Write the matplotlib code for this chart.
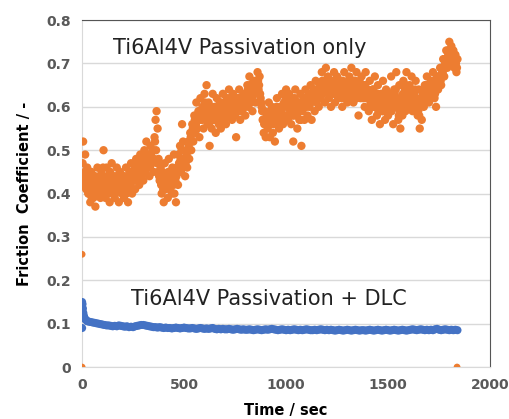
import numpy as np
import matplotlib.pyplot as plt

# orange: Ti6Al4V passivation only, sampled every 5 s from 5 s to 1840 s
orange_v = [
    0.52, 0.44, 0.49, 0.41, 0.46, 0.40, 0.43, 0.38, 0.45, 0.41, 0.39, 0.44, 0.37, 0.42, 0.46, 0.40, 0.43, 0.39, 0.45, 0.41,
    0.50, 0.43, 0.39, 0.46, 0.41, 0.44, 0.38, 0.42, 0.47, 0.40, 0.44, 0.39, 0.43, 0.46, 0.41, 0.38, 0.45, 0.42, 0.40, 0.44,
    0.39, 0.43, 0.46, 0.41, 0.38, 0.44, 0.42, 0.47, 0.40, 0.43, 0.45, 0.41, 0.48, 0.43, 0.46, 0.42, 0.49, 0.44, 0.47, 0.43,
    0.50, 0.45, 0.52, 0.46, 0.49, 0.44, 0.51, 0.47, 0.50, 0.45, 0.53, 0.57, 0.59, 0.55, 0.48, 0.43, 0.46, 0.40, 0.44, 0.38,
    0.47, 0.41, 0.44, 0.39, 0.48, 0.42, 0.45, 0.40, 0.43, 0.49, 0.44, 0.38, 0.46, 0.42, 0.47, 0.51, 0.45, 0.56, 0.52, 0.48,
    0.44, 0.50, 0.46, 0.52, 0.48, 0.54, 0.50, 0.56, 0.52, 0.58, 0.54, 0.61, 0.55, 0.59, 0.53, 0.62, 0.57, 0.60, 0.55, 0.63,
    0.58, 0.65, 0.56, 0.61, 0.51, 0.59, 0.55, 0.63, 0.57, 0.60, 0.54, 0.62, 0.58, 0.56, 0.61, 0.55, 0.59, 0.63, 0.57, 0.60,
    0.56, 0.62, 0.58, 0.64, 0.59, 0.61, 0.57, 0.63, 0.60, 0.58, 0.53, 0.62, 0.59, 0.64, 0.57, 0.61, 0.59, 0.63, 0.60, 0.58,
    0.62, 0.65, 0.60, 0.67, 0.62, 0.64, 0.59, 0.66, 0.63, 0.61, 0.65, 0.68, 0.64, 0.67, 0.62, 0.60, 0.57, 0.54, 0.59, 0.53,
    0.58, 0.55, 0.61, 0.53, 0.57, 0.60, 0.54, 0.59, 0.52, 0.56, 0.62, 0.58, 0.55, 0.60, 0.57, 0.63, 0.56, 0.61, 0.58, 0.64,
    0.60, 0.57, 0.63, 0.59, 0.56, 0.62, 0.52, 0.58, 0.64, 0.60, 0.55, 0.61, 0.57, 0.63, 0.51, 0.59, 0.62, 0.57, 0.64, 0.60,
    0.58, 0.63, 0.60, 0.65, 0.57, 0.62, 0.64, 0.59, 0.66, 0.61, 0.63, 0.60, 0.65, 0.62, 0.68, 0.63, 0.66, 0.61, 0.69, 0.64,
    0.67, 0.62, 0.65, 0.60, 0.66, 0.63, 0.68, 0.61, 0.64, 0.67, 0.62, 0.65, 0.63, 0.66, 0.60, 0.64, 0.68, 0.62, 0.65, 0.61,
    0.64, 0.67, 0.62, 0.69, 0.65, 0.61, 0.66, 0.63, 0.68, 0.64, 0.58, 0.66, 0.62, 0.67, 0.63, 0.65, 0.60, 0.68, 0.62, 0.64,
    0.59, 0.66, 0.61, 0.57, 0.64, 0.60, 0.67, 0.62, 0.58, 0.65, 0.61, 0.56, 0.63, 0.59, 0.66, 0.60, 0.57, 0.64, 0.61, 0.58,
    0.63, 0.59, 0.67, 0.61, 0.56, 0.64, 0.60, 0.68, 0.62, 0.57, 0.65, 0.55, 0.61, 0.58, 0.66, 0.62, 0.59, 0.68, 0.63, 0.60,
    0.65, 0.61, 0.67, 0.59, 0.63, 0.60, 0.66, 0.62, 0.58, 0.64, 0.55, 0.61, 0.57, 0.63, 0.60, 0.65, 0.62, 0.67, 0.63, 0.61,
    0.64, 0.66, 0.62, 0.68, 0.65, 0.63, 0.60, 0.67, 0.64, 0.66, 0.69, 0.65, 0.68, 0.71, 0.67, 0.70, 0.73, 0.69, 0.72, 0.75,
    0.71, 0.74, 0.70, 0.73, 0.69, 0.72, 0.68, 0.71,
]
# in-between readings (2.5 s offset), mostly mid-band
orange_v2 = [
    0.47, 0.42, 0.45, 0.43, 0.41, 0.44, 0.40, 0.42, 0.43, 0.39, 0.42, 0.41, 0.44, 0.40, 0.43, 0.42, 0.41, 0.44, 0.42, 0.40,
    0.46, 0.41, 0.43, 0.42, 0.44, 0.40, 0.43, 0.45, 0.42, 0.41, 0.43, 0.42, 0.40, 0.44, 0.43, 0.42, 0.41, 0.43, 0.44, 0.42,
    0.41, 0.44, 0.43, 0.40, 0.42, 0.43, 0.45, 0.42, 0.44, 0.41, 0.43, 0.46, 0.44, 0.45, 0.43, 0.47, 0.45, 0.46, 0.44, 0.48,
    0.47, 0.48, 0.46, 0.49, 0.47, 0.48, 0.46, 0.49, 0.47, 0.50, 0.48, 0.52, 0.50, 0.47, 0.45, 0.44, 0.43, 0.42, 0.45, 0.41,
    0.44, 0.43, 0.42, 0.44, 0.45, 0.43, 0.41, 0.44, 0.46, 0.42, 0.40, 0.43, 0.44, 0.45, 0.49, 0.47, 0.48, 0.50, 0.46, 0.47,
    0.48, 0.47, 0.49, 0.50, 0.51, 0.52, 0.53, 0.54, 0.55, 0.56, 0.57, 0.56, 0.57, 0.58, 0.57, 0.59, 0.58, 0.57, 0.59, 0.60,
    0.61, 0.60, 0.58, 0.57, 0.56, 0.58, 0.60, 0.59, 0.58, 0.57, 0.59, 0.60, 0.59, 0.58, 0.58, 0.57, 0.61, 0.60, 0.59, 0.58,
    0.60, 0.59, 0.61, 0.60, 0.62, 0.59, 0.60, 0.61, 0.62, 0.60, 0.59, 0.60, 0.61, 0.62, 0.60, 0.59, 0.61, 0.62, 0.61, 0.60,
    0.63, 0.62, 0.64, 0.63, 0.65, 0.61, 0.62, 0.64, 0.65, 0.63, 0.66, 0.64, 0.66, 0.65, 0.63, 0.61, 0.59, 0.57, 0.56, 0.57,
    0.56, 0.58, 0.57, 0.56, 0.59, 0.57, 0.58, 0.56, 0.57, 0.59, 0.60, 0.57, 0.58, 0.59, 0.60, 0.59, 0.58, 0.60, 0.61, 0.62,
    0.61, 0.60, 0.60, 0.61, 0.59, 0.60, 0.58, 0.61, 0.62, 0.59, 0.58, 0.60, 0.60, 0.59, 0.57, 0.61, 0.60, 0.61, 0.62, 0.61,
    0.61, 0.62, 0.63, 0.62, 0.61, 0.63, 0.62, 0.64, 0.63, 0.62, 0.64, 0.63, 0.63, 0.65, 0.64, 0.66, 0.64, 0.65, 0.66, 0.65,
    0.65, 0.64, 0.63, 0.64, 0.65, 0.64, 0.66, 0.65, 0.63, 0.65, 0.64, 0.64, 0.65, 0.63, 0.62, 0.66, 0.65, 0.64, 0.63, 0.64,
    0.65, 0.64, 0.66, 0.65, 0.63, 0.64, 0.65, 0.66, 0.65, 0.62, 0.63, 0.64, 0.65, 0.64, 0.63, 0.62, 0.64, 0.65, 0.63, 0.62,
    0.62, 0.63, 0.60, 0.61, 0.62, 0.64, 0.63, 0.60, 0.62, 0.63, 0.59, 0.60, 0.61, 0.62, 0.63, 0.59, 0.60, 0.62, 0.60, 0.61,
    0.61, 0.63, 0.62, 0.59, 0.60, 0.62, 0.63, 0.64, 0.60, 0.61, 0.58, 0.59, 0.60, 0.62, 0.63, 0.61, 0.64, 0.65, 0.62, 0.63,
    0.62, 0.64, 0.63, 0.62, 0.61, 0.63, 0.64, 0.60, 0.61, 0.59, 0.58, 0.60, 0.61, 0.62, 0.63, 0.63, 0.64, 0.65, 0.62, 0.63,
    0.65, 0.64, 0.65, 0.66, 0.64, 0.62, 0.64, 0.65, 0.66, 0.67, 0.67, 0.66, 0.69, 0.68, 0.69, 0.71, 0.70, 0.71, 0.73, 0.72,
    0.73, 0.72, 0.71, 0.70, 0.72, 0.71, 0.70, 0.69,
]
orange_t = np.arange(1, len(orange_v) + 1) * 5
orange_t2 = orange_t - 2.5
# stray orange points at start/end of the run
orange_extra_t = [0, 0, 1838]
orange_extra_v = [0.26, 0.0, 0.0]

# blue: Ti6Al4V passivation + DLC
blue_early_t = [0, 0, 2, 4, 6, 9, 12, 16, 20, 25]
blue_early_v = [0.09, 0.15, 0.145, 0.135, 0.125, 0.118, 0.113, 0.110, 0.108, 0.106]
blue_v = [
    0.105, 0.104, 0.103, 0.102, 0.101, 0.100, 0.099, 0.098,
    0.097, 0.096, 0.096, 0.095, 0.094, 0.095, 0.094, 0.096, 0.095, 0.094,
    0.093, 0.094, 0.092, 0.093, 0.092, 0.094, 0.095, 0.096, 0.097, 0.097,
    0.096, 0.095, 0.094, 0.093, 0.092, 0.092, 0.091, 0.092, 0.091, 0.090,
    0.091, 0.090, 0.090, 0.089, 0.090, 0.091, 0.090, 0.089, 0.090, 0.091,
    0.090, 0.089, 0.089, 0.090, 0.089, 0.088, 0.089, 0.090, 0.089, 0.088,
    0.089, 0.088, 0.089, 0.090, 0.088, 0.087, 0.088, 0.087, 0.088, 0.087,
    0.087, 0.088, 0.087, 0.086, 0.087, 0.088, 0.087, 0.086, 0.087, 0.086,
    0.086, 0.087, 0.086, 0.085, 0.086, 0.087, 0.086, 0.085, 0.086, 0.087,
    0.086, 0.087, 0.088, 0.087, 0.086, 0.085, 0.086, 0.087, 0.086, 0.085,
    0.086, 0.085, 0.086, 0.087, 0.086, 0.085, 0.086, 0.085, 0.086, 0.087,
    0.086, 0.085, 0.085, 0.086, 0.085, 0.086, 0.087, 0.086, 0.085, 0.086,
    0.085, 0.086, 0.085, 0.084, 0.085, 0.086, 0.085, 0.084, 0.085, 0.086,
    0.085, 0.084, 0.085, 0.086, 0.085, 0.084, 0.085, 0.085, 0.084, 0.085,
    0.086, 0.085, 0.084, 0.085, 0.086, 0.085, 0.084, 0.085, 0.086, 0.085,
    0.084, 0.085, 0.086, 0.085, 0.084, 0.085, 0.086, 0.085, 0.084, 0.085,
    0.086, 0.087, 0.086, 0.085, 0.086, 0.087, 0.086, 0.085, 0.086, 0.085,
    0.086, 0.085, 0.087, 0.088, 0.086, 0.085, 0.086, 0.087, 0.086, 0.085,
    0.086, 0.085, 0.086, 0.085,
]
blue_t = 30 + np.arange(len(blue_v)) * 10

x_ticks = [0, 500, 1000, 1500, 2000]
y_ticks = [0, 0.1, 0.2, 0.3, 0.4, 0.5, 0.6, 0.7, 0.8]

orange = '#ED7D31'
blue = '#4472C4'
grey = '#595959'

fig = plt.figure(figsize=(5.1, 4.19), dpi=100)
ax = fig.add_axes([0.161, 0.124, 0.8, 0.828])

ax.scatter(orange_t2, orange_v2, s=36, color=orange, edgecolors='none', zorder=3)
ax.scatter(orange_t, orange_v, s=36, color=orange, edgecolors='none', zorder=3)
ax.scatter(orange_extra_t, orange_extra_v, s=24, color=orange, edgecolors='none', zorder=3)
ax.scatter(blue_early_t, blue_early_v, s=34, color=blue, edgecolors='none', zorder=3)
ax.scatter(blue_t, blue_v, s=34, color=blue, edgecolors='none', zorder=3)

ax.set_xlim(0, 2000)
ax.set_ylim(0, 0.8)
ax.set_xticks(x_ticks)
ax.set_yticks(y_ticks)
ax.set_yticklabels(['0'] + [f'{v:.1f}' for v in y_ticks[1:]])
ax.tick_params(length=0, labelsize=10, labelcolor=grey, pad=8)
for lab in ax.get_xticklabels() + ax.get_yticklabels():
    lab.set_fontweight('bold')

ax.grid(axis='y', color='#d9d9d9', lw=1)
ax.set_axisbelow(True)
ax.spines['left'].set_color('#d9d9d9')
ax.spines['bottom'].set_color('#d9d9d9')
ax.spines['top'].set_color('#555555')
ax.spines['right'].set_color('#555555')

ax.set_ylabel('Friction  Coefficient / -', fontsize=10.5, fontweight='bold', labelpad=10)
ax.set_xlabel('Time / sec', fontsize=10.5, fontweight='bold', labelpad=8)

ax.text(0.075, 0.92, 'Ti6Al4V Passivation only', transform=ax.transAxes,
        fontsize=15, color='#222222', va='center')
ax.text(0.12, 0.195, 'Ti6Al4V Passivation + DLC', transform=ax.transAxes,
        fontsize=15, color='#222222', va='center')

fig.savefig('out.png', dpi=100)
